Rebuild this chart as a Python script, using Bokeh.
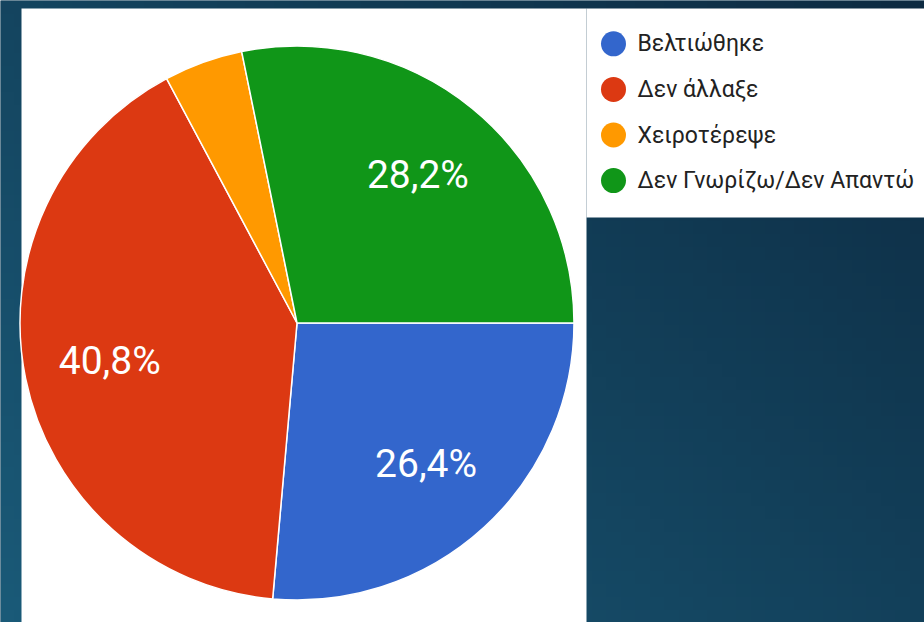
import numpy as np
from bokeh.plotting import figure
from bokeh.models import Range1d, ColumnDataSource
from bokeh.embed import file_html
from bokeh.resources import INLINE
from bokeh.core.properties import value

# ---- data ----
categories = ["Βελτιώθηκε", "Δεν άλλαξε", "Χειροτέρεψε", "Δεν Γνωρίζω/Δεν Απαντώ"]
percentages = [26.4, 40.8, 4.6, 28.2]
colors = ["#3366cc", "#dc3912", "#ff9900", "#109618"]
pct_labels = ["26,4%", "40,8%", "4,6%", "28,2%"]

W, H = 924, 622
p = figure(width=W, height=H, x_range=Range1d(0, W), y_range=Range1d(0, H),
           output_backend="svg", toolbar_location=None, min_border=0)
p.axis.visible = False
p.grid.visible = False
p.outline_line_color = None
p.background_fill_color = "#123f58"
p.border_fill_color = "#123f58"

# background gradient (lighter bottom-left, darker top-right)
ny, nx = 48, 64
yy, xx = np.mgrid[0:ny, 0:nx]
t = 0.55 * (xx / (nx - 1)) + 0.45 * (yy / (ny - 1))
c0 = np.array([0x1a, 0x5a, 0x78], dtype=float)
c1 = np.array([0x0d, 0x2b, 0x42], dtype=float)
rgb = c0[None, None, :] * (1 - t[..., None]) + c1[None, None, :] * t[..., None]
img = np.zeros((ny, nx, 4), dtype=np.uint8)
img[..., :3] = rgb.astype(np.uint8)
img[..., 3] = 255
p.image_rgba(image=[img.view(np.uint32).reshape(ny, nx)], x=0, y=0, dw=W, dh=H)

# white panels
p.quad(left=[21], right=[586], bottom=[0], top=[614], fill_color="white", line_color=None)
p.quad(left=[586], right=[W], bottom=[405], top=[614], fill_color="white", line_color=None)

# pie
cx, cy, R = 296.5, 299.5, 277
frac = np.array(percentages) / sum(percentages)
cum = np.concatenate([[0.0], np.cumsum(frac)])
start = -cum[:-1] * 2 * np.pi
end = -cum[1:] * 2 * np.pi
src = ColumnDataSource(dict(start=start, end=end, color=colors, cat=categories))
p.wedge(x=cx, y=cy, radius=R, start_angle="start", end_angle="end", direction="clock",
        fill_color="color", line_color="white", line_width=1.5, source=src)

mid = (start + end) / 2
show = frac > 0.1
lx = cx + 0.69 * R * np.cos(mid[show])
ly = cy + 0.69 * R * np.sin(mid[show])
p.text(x=lx, y=ly, text=[l for l, s in zip(pct_labels, show) if s],
       text_color="white", text_font=value("Roboto"), text_font_size="39px",
       text_align="center", text_baseline="middle")

# legend
lg_y = 578.7 - 45.6 * np.arange(len(categories))
p.scatter(x=[613] * len(categories), y=lg_y, size=25, fill_color=colors, line_color=None)
p.text(x=[637] * len(categories), y=lg_y, text=categories, text_color="#222222",
       text_font=value("Roboto"), text_font_size="23px",
       text_align="left", text_baseline="middle")

open("out.html", "w").write(file_html(p, INLINE))
